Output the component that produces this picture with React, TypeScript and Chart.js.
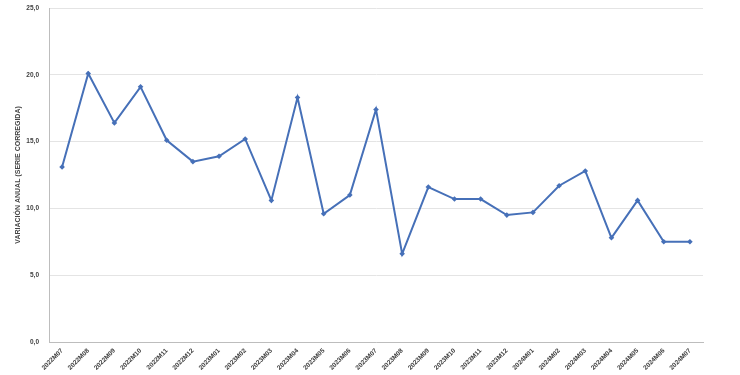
import React, { useEffect, useRef } from "react";
import { Chart, registerables } from "chart.js";

Chart.register(...registerables);

const categories = [
  "2022M07", "2022M08", "2022M09", "2022M10", "2022M11", "2022M12",
  "2023M01", "2023M02", "2023M03", "2023M04", "2023M05", "2023M06",
  "2023M07", "2023M08", "2023M09", "2023M10", "2023M11", "2023M12",
  "2024M01", "2024M02", "2024M03", "2024M04", "2024M05", "2024M06", "2024M07",
];

const variacionAnual = [
  13.1, 20.1, 16.4, 19.1, 15.1, 13.5,
  13.9, 15.2, 10.6, 18.3, 9.6, 11.0,
  17.4, 6.6, 11.6, 10.7, 10.7, 9.5,
  9.7, 11.7, 12.8, 7.8, 10.6, 7.5, 7.5,
];

const yTicks = [0, 5, 10, 15, 20, 25];
const yTitle = "VARIACIÓN ANUAL (SERIE CORREGIDA)";

export default function App() {
  const ref = useRef<HTMLCanvasElement | null>(null);

  useEffect(() => {
    if (!ref.current) return;
    const font = "'Liberation Sans', Arial, sans-serif";
    const chart = new Chart(ref.current, {
      type: "line",
      data: {
        labels: categories,
        datasets: [
          {
            data: variacionAnual,
            borderColor: "#4670b8",
            backgroundColor: "#4670b8",
            borderWidth: 2,
            pointStyle: "rectRot",
            pointRadius: 2.8,
            pointBorderWidth: 0,
            tension: 0,
          },
        ],
      },
      options: {
        animation: false,
        responsive: false,
        maintainAspectRatio: false,
        layout: { autoPadding: false, padding: { top: 8, right: 37, left: 0, bottom: 0 } },
        plugins: { legend: { display: false }, tooltip: { enabled: false } },
        scales: {
          x: {
            offset: true,
            grid: { drawOnChartArea: false, drawTicks: false },
            border: { display: true, color: "#bdbdbd", width: 1 },
            ticks: {
              minRotation: 45,
              maxRotation: 45,
              autoSkip: false,
              padding: 5,
              color: "#404040",
              font: { family: font, size: 6.5, weight: "bold" },
            },
            afterFit: (s: any) => {
              s.height = 33;
              s.paddingLeft = 0;
              s.paddingRight = 0;
            },
          },
          y: {
            min: 0,
            max: 25,
            afterBuildTicks: (s: any) => {
              s.ticks = yTicks.map((v) => ({ value: v }));
            },
            grid: { color: "#e4e4e4", drawTicks: false },
            border: { display: true, color: "#bdbdbd", width: 1 },
            ticks: {
              padding: 10,
              color: "#404040",
              font: { family: font, size: 6.5, weight: "bold" },
              callback: (v: any) => Number(v).toFixed(1).replace(".", ","),
            },
            title: {
              display: true,
              text: yTitle,
              color: "#454545",
              padding: { top: 14, bottom: 0 },
              font: { family: font, size: 7, weight: "bold" },
            },
            afterFit: (s: any) => {
              s.width = 49;
              s.paddingTop = 0;
              s.paddingBottom = 0;
            },
          },
        },
      },
    });
    return () => chart.destroy();
  }, []);

  return (
    <div style={{ position: "absolute", left: 0, top: 0, width: 740, height: 375, background: "#fff" }}>
      <canvas ref={ref} width={740} height={375} style={{ width: 740, height: 375 }} />
    </div>
  );
}
